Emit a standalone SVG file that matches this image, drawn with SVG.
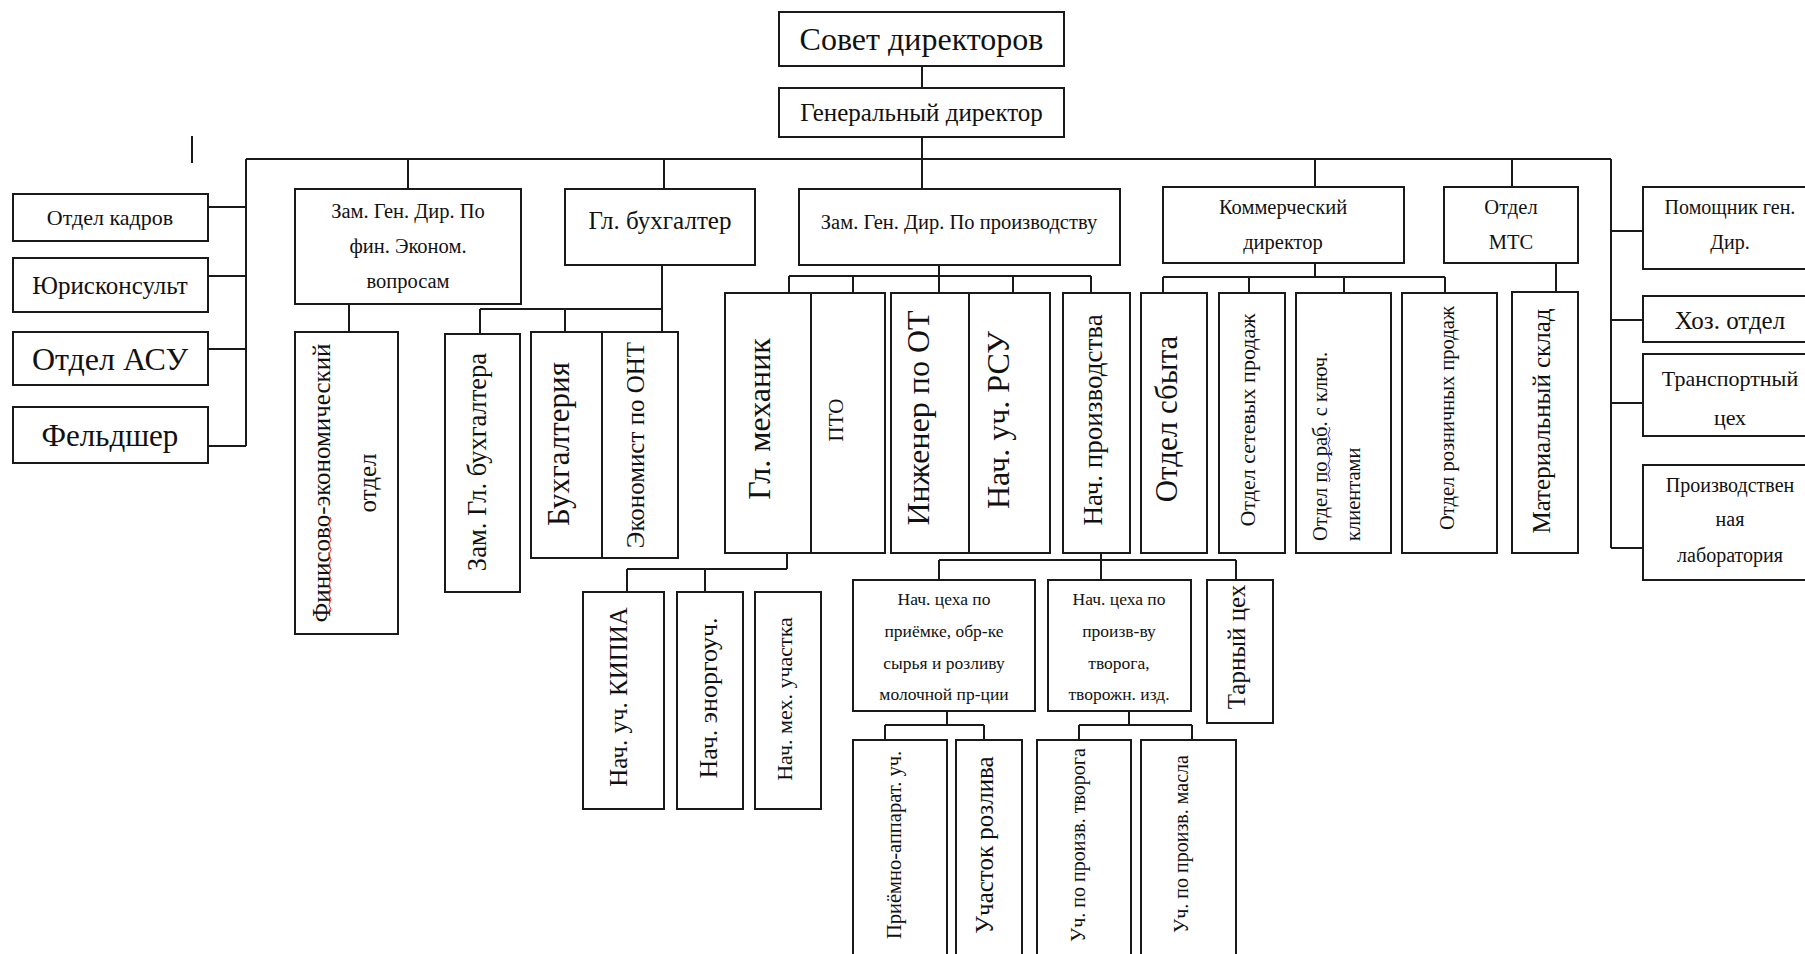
<svg xmlns="http://www.w3.org/2000/svg" width="1805" height="954" viewBox="0 0 1805 954">
<style>
rect{fill:#fff;stroke:#1a1a1a;stroke-width:2}
text{font-family:"Liberation Serif","Times New Roman",serif;fill:#111;text-anchor:middle;dominant-baseline:central}
.c{fill:none;stroke:#1a1a1a;stroke-width:2}
.s{text-anchor:start}
</style>
<rect x="0" y="0" width="1805" height="954" style="stroke:none"/>
<g id="connectors">
<path class="c" d="M922,66V88M922,137V189M246,159H1611M246,159V446M208,207H246M208,276H246M208,349H246M208,446H246M1611,159V548M1611,231H1643M1611,320H1643M1611,403H1643M1611,548H1643M408,159V189M664,159V189M1315,159V187M1512,159V187M349,304V332M662,265V332M480,309H662M480,309V334M565,309V332M939,265V293M789,276H1091M789,276V293M853,276V293M1013,276V293M1091,276V293M1315,263V277M1163,277H1445M1163,277V293M1249,277V293M1344,277V293M1445,277V293M1556,263V292M787,553V569M627,569H787M627,569V592M705,569V592M1101,553V580M939,560H1236M939,560V580M1236,560V580M947,711V725M885,725H984M885,725V740M984,725V740M1129,711V725M1079,725H1192M1079,725V740M1192,725V740M192,136V163"/>
</g>
<g id="sovet"><rect x="779" y="12" width="285" height="54"/><text x="921.5" y="39" font-size="32">Совет директоров</text></g>
<g id="gendir"><rect x="779" y="88" width="285" height="49"/><text x="921.5" y="112.5" font-size="25">Генеральный директор</text></g>
<g id="kadry"><rect x="13" y="194" width="195" height="47"/><text x="110" y="217.5" font-size="22">Отдел кадров</text></g>
<g id="yurist"><rect x="13" y="258" width="195" height="54"/><text x="110" y="285" font-size="25">Юрисконсульт</text></g>
<g id="asu"><rect x="13" y="332" width="195" height="53"/><text x="110" y="358.5" font-size="32">Отдел АСУ</text></g>
<g id="feldsher"><rect x="13" y="407" width="195" height="56"/><text x="110" y="435" font-size="31">Фельдшер</text></g>
<g id="zamfin"><rect x="295" y="189" width="226" height="115"/><text x="408" y="211" font-size="20.5">Зам. Ген. Дир. По</text><text x="408" y="246" font-size="20.5">фин. Эконом.</text><text x="408" y="281" font-size="20.5">вопросам</text></g>
<g id="glbuh"><rect x="565" y="189" width="190" height="76"/><text x="660" y="220" font-size="25">Гл. бухгалтер</text></g>
<g id="zamproizv"><rect x="799" y="189" width="321" height="76"/><text x="959" y="222" font-size="20.5">Зам. Ген. Дир. По производству</text></g>
<g id="kommerch"><rect x="1163" y="187" width="241" height="76"/><text x="1283" y="207" font-size="20.5">Коммерческий</text><text x="1283" y="242" font-size="20.5">директор</text></g>
<g id="mts"><rect x="1444" y="187" width="134" height="76"/><text x="1511" y="207" font-size="20.5">Отдел</text><text x="1511" y="242" font-size="20.5">МТС</text></g>
<g id="pomoshnik"><rect x="1643" y="187" width="170" height="82"/><text x="1730" y="207" font-size="20">Помощник ген.</text><text x="1730" y="242" font-size="20">Дир.</text></g>
<g id="hoz"><rect x="1643" y="296" width="170" height="46"/><text x="1730" y="320" font-size="25">Хоз. отдел</text></g>
<g id="transport"><rect x="1643" y="354" width="170" height="82"/><text x="1730" y="378" font-size="22">Транспортный</text><text x="1730" y="417" font-size="22">цех</text></g>
<g id="lab"><rect x="1643" y="465" width="170" height="115"/><text x="1730" y="485" font-size="20">Производствен</text><text x="1730" y="519" font-size="20">ная</text><text x="1730" y="555" font-size="20">лаборатория</text></g>
<g id="finisovo"><rect x="295" y="332" width="103" height="302"/><text transform="translate(321,483) rotate(-90)" font-size="25">Финисово-экономический</text><text transform="translate(367,483) rotate(-90)" font-size="25">отдел</text><path d="M330,517q2,2.5 0,5t0,5t0,5t0,5t0,5t0,5t0,5t0,5t0,5t0,5t0,5t0,5t0,5t0,5t0,5t0,5t0,5t0,5t0,5" fill="none" stroke="#e33" stroke-width="1"/></g>
<g id="zamglbuh"><rect x="445" y="334" width="75" height="258"/><text transform="translate(477,462) rotate(-90)" font-size="26.5">Зам. Гл. бухгалтера</text></g>
<g id="buhgalteria"><rect x="531" y="332" width="71" height="226"/><text transform="translate(558,444) rotate(-90)" font-size="31">Бухгалтерия</text></g>
<g id="ekonomist"><rect x="602" y="332" width="76" height="226"/><text transform="translate(635,445) rotate(-90)" font-size="25">Экономист по ОНТ</text></g>
<g id="glmeh"><rect x="725" y="293" width="86" height="260"/><text transform="translate(759,419) rotate(-90)" font-size="32">Гл. механик</text></g>
<g id="pto"><rect x="811" y="293" width="74" height="260"/><text transform="translate(836,420) rotate(-90)" font-size="21">ПТО</text></g>
<g id="ingot"><rect x="891" y="293" width="78" height="260"/><text transform="translate(918,418) rotate(-90)" font-size="32">Инженер по ОТ</text></g>
<g id="rsu"><rect x="969" y="293" width="81" height="260"/><text transform="translate(998,420) rotate(-90)" font-size="32">Нач. уч. РСУ</text></g>
<g id="nachproizv"><rect x="1063" y="293" width="67" height="260"/><text transform="translate(1093,420) rotate(-90)" font-size="27">Нач. производства</text></g>
<g id="sbyt"><rect x="1141" y="293" width="66" height="260"/><text transform="translate(1166,419) rotate(-90)" font-size="31">Отдел сбыта</text></g>
<g id="setevyh"><rect x="1219" y="293" width="66" height="260"/><text transform="translate(1247,420) rotate(-90)" font-size="22">Отдел сетевых продаж</text></g>
<g id="rab"><rect x="1296" y="293" width="95" height="260"/><text class="s" transform="translate(1320,541) rotate(-90)" font-size="20.5">Отдел по раб. с ключ.</text><text class="s" transform="translate(1353,541) rotate(-90)" font-size="20.5">клиентами</text><path d="M1329,427q2,2.5 0,5t0,5t0,5t0,5t0,5t0,5t0,5t0,5t0,5t0,5t0,5" fill="none" stroke="#33e" stroke-width="1"/></g>
<g id="roznich"><rect x="1402" y="293" width="95" height="260"/><text transform="translate(1447,418) rotate(-90)" font-size="20.5">Отдел розничных продаж</text></g>
<g id="material"><rect x="1512" y="292" width="66" height="261"/><text transform="translate(1541,421) rotate(-90)" font-size="25">Материальный склад</text></g>
<g id="kipia"><rect x="583" y="592" width="81" height="217"/><text transform="translate(618,697) rotate(-90)" font-size="25">Нач. уч. КИПИА</text></g>
<g id="energo"><rect x="677" y="592" width="66" height="217"/><text transform="translate(708,698) rotate(-90)" font-size="26">Нач. эноргоуч.</text></g>
<g id="meh"><rect x="755" y="592" width="66" height="217"/><text transform="translate(784,699) rotate(-90)" font-size="22">Нач. мех. участка</text></g>
<g id="priemka"><rect x="853" y="580" width="182" height="131"/><text x="944" y="599" font-size="17.5">Нач. цеха по</text><text x="944" y="631" font-size="17.5">приёмке, обр-ке</text><text x="944" y="663" font-size="17.5">сырья и розливу</text><text x="944" y="694" font-size="17.5">молочной пр-ции</text></g>
<g id="tvorogceh"><rect x="1048" y="580" width="143" height="131"/><text x="1119" y="599" font-size="17.5">Нач. цеха по</text><text x="1119" y="631" font-size="17.5">произв-ву</text><text x="1119" y="663" font-size="17.5">творога,</text><text x="1119" y="694" font-size="17.5">творожн. изд.</text></g>
<g id="tarny"><rect x="1207" y="580" width="66" height="143"/><text transform="translate(1236,647) rotate(-90)" font-size="25">Тарный цех</text></g>
<g id="priemno"><rect x="853" y="740" width="94" height="230"/><text transform="translate(894,845) rotate(-90)" font-size="20.5">Приёмно-аппарат. уч.</text></g>
<g id="rozliv"><rect x="956" y="740" width="66" height="230"/><text transform="translate(984,845) rotate(-90)" font-size="25">Участок розлива</text></g>
<g id="uchtvorog"><rect x="1037" y="740" width="94" height="230"/><text transform="translate(1078,845) rotate(-90)" font-size="20">Уч. по произв. творога</text></g>
<g id="uchmasla"><rect x="1141" y="740" width="95" height="230"/><text transform="translate(1181,844) rotate(-90)" font-size="20">Уч. по произв. масла</text></g>
</svg>
